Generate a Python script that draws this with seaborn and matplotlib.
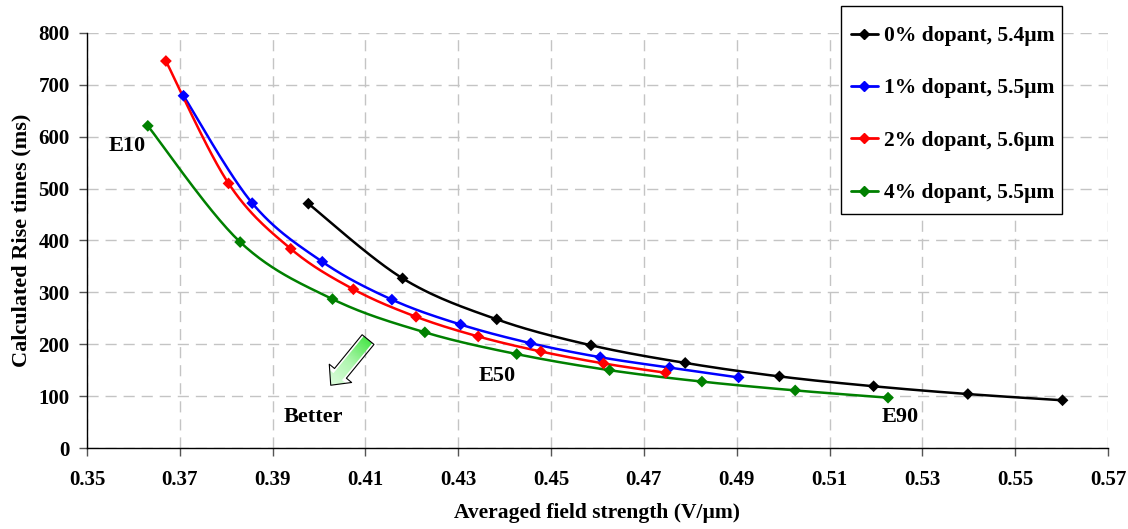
import numpy as np
import pandas as pd
import matplotlib
matplotlib.use("Agg")
import matplotlib.pyplot as plt
import seaborn as sns
from matplotlib.lines import Line2D
from matplotlib.patches import Rectangle, FancyArrowPatch
from matplotlib.colors import LinearSegmentedColormap

# ---- data ----
labels = ["0% dopant, 5.4\u00b5m", "1% dopant, 5.5\u00b5m", "2% dopant, 5.6\u00b5m", "4% dopant, 5.5\u00b5m"]
colors = ["#000000", "#0000ff", "#ff0000", "#008000"]

x0 = [0.3977, 0.4180, 0.4383, 0.4586, 0.4789, 0.4992, 0.5195, 0.5398, 0.5602]
y0 = [471, 327, 248, 198, 164, 138, 119, 104, 92]

x1 = [0.3708, 0.3856, 0.4007, 0.4157, 0.4305, 0.4456, 0.4606, 0.4755, 0.4904]
y1 = [679, 472, 359, 286, 238, 202, 175, 155, 136]

x2 = [0.3670, 0.3805, 0.3939, 0.4074, 0.4209, 0.4343, 0.4478, 0.4613, 0.4747]
y2 = [746, 510, 384, 306, 253, 215, 186, 163, 145]

x3 = [0.3631, 0.3830, 0.4029, 0.4228, 0.4426, 0.4626, 0.4825, 0.5026, 0.5226]
y3 = [621, 397, 287, 223, 181, 150, 128, 111, 97]

xs = [x0, x1, x2, x3]
ys = [y0, y1, y2, y3]

xticks = [0.35, 0.37, 0.39, 0.41, 0.43, 0.45, 0.47, 0.49, 0.51, 0.53, 0.55, 0.57]
yticks = [0, 100, 200, 300, 400, 500, 600, 700, 800]


def smooth(x, y, n=30):
    """Excel-style Bezier smoothing through the data points."""
    P = np.column_stack([x, y]).astype(float)
    Pe = np.vstack([P[0], P, P[-1]])
    t = np.linspace(0, 1, n)[:, None]
    out = []
    for i in range(len(P) - 1):
        p0, p3 = Pe[i + 1], Pe[i + 2]
        c1 = p0 + (Pe[i + 2] - Pe[i]) / 6.0
        c2 = p3 - (Pe[i + 3] - Pe[i + 1]) / 6.0
        seg = ((1 - t) ** 3) * p0 + 3 * ((1 - t) ** 2) * t * c1 + 3 * (1 - t) * t ** 2 * c2 + t ** 3 * p3
        out.append(seg if i == 0 else seg[1:])
    S = np.vstack(out)
    return S[:, 0], S[:, 1]


sns.set_theme(style="white")
plt.rcParams["font.family"] = ["Liberation Serif", "DejaVu Serif"]
plt.rcParams["font.weight"] = "bold"
plt.rcParams["text.color"] = "black"
plt.rcParams["axes.labelcolor"] = "black"
plt.rcParams["xtick.labelcolor"] = "black"
plt.rcParams["ytick.labelcolor"] = "black"

W, H = 1128, 529
fig = plt.figure(figsize=(W / 100, H / 100), dpi=100)
ax = fig.add_axes([87 / W, 1 - 448 / H, (1108 - 87) / W, (448 - 33) / H])

df = pd.concat([pd.DataFrame({"x": xs[i], "y": ys[i], "series": labels[i]}) for i in range(4)])

for i in range(4):
    sx, sy = smooth(xs[i], ys[i])
    ax.plot(sx, sy, color=colors[i], lw=1.8, zorder=3)

sns.scatterplot(data=df, x="x", y="y", hue="series", palette=dict(zip(labels, colors)),
                marker="D", s=36, edgecolor="none", legend=False, ax=ax, zorder=4)

ax.grid(True, color="#c4c4c4", linestyle=(0, (8, 5)), linewidth=1.0)
ax.set_axisbelow(True)
for s in ["top", "right"]:
    ax.spines[s].set_visible(False)
for s in ["left", "bottom"]:
    ax.spines[s].set_color("black")
    ax.spines[s].set_linewidth(1.0)
ax.tick_params(axis="both", direction="out", length=5.5, width=1, color="#555555",
               labelcolor="black", labelsize=15, bottom=True, left=True)
ax.tick_params(axis="x", pad=10)
ax.tick_params(axis="y", pad=7)

ax.set_xlabel("Averaged field strength (V/\u00b5m)", fontsize=15.5, fontweight="bold",
              labelpad=10, color="black")
ax.set_ylabel("Calculated Rise times (ms)", fontsize=16, fontweight="bold", labelpad=5, color="black")

# annotations
ax.text(0.3586, 582, "E10", fontsize=16, fontweight="bold", ha="center", va="center", color="black")
ax.text(0.4384, 139, "E50", fontsize=16, fontweight="bold", ha="center", va="center", color="black")
ax.text(0.5252, 60, "E90", fontsize=16, fontweight="bold", ha="center", va="center", color="black")
ax.text(0.3987, 60, "Better", fontsize=16, fontweight="bold", ha="center", va="center", color="black")

arrow = FancyArrowPatch(posA=(0.41056, 209), posB=(0.40252, 121),
                        arrowstyle="simple,head_width=1.6,head_length=0.85,tail_width=0.85",
                        mutation_scale=13, fc="none", ec="black", lw=0.8,
                        shrinkA=0, shrinkB=0, transform=ax.transData, zorder=6)
ax.add_patch(arrow)
# gradient fill for the arrow
nx = ny = 60
u = np.linspace(0, 1, nx)[None, :]
v = np.linspace(0, 1, ny)[:, None]
grad = (u * 41 + v * 47) / 88.0
cmap = LinearSegmentedColormap.from_list("g", ["#f0fff0", "#b0f6b0", "#22e022"])
im = ax.imshow(grad, extent=(0.4000, 0.4125, 108, 222), origin="lower", cmap=cmap,
               aspect="auto", zorder=5, interpolation="bilinear")
im.set_clip_path(arrow)

ax.set_xlim(0.35, 0.57)
ax.set_ylim(0, 800)
ax.set_xticks(xticks)
ax.set_xticklabels([f"{v:.2f}" for v in xticks])
ax.set_yticks(yticks)
ax.set_yticklabels([str(v) for v in yticks])
for lab in ax.get_xticklabels() + ax.get_yticklabels():
    lab.set_fontweight("bold")
    lab.set_color("black")

# legend with its own frame
frame = Rectangle((841 / W, 1 - 214 / H), 221 / W, 208 / H, transform=fig.transFigure,
                  fc="white", ec="black", lw=1.0, zorder=1)
fig.add_artist(frame)
handles = [Line2D([0], [0], color=c, lw=2, marker="D", markersize=5) for c in colors]
leg = fig.legend(handles, labels, loc="upper left", bbox_to_anchor=(851 / W, 1 - 26 / H),
                 borderaxespad=0, borderpad=0, frameon=False,
                 prop={"size": 15.5, "weight": "bold"},
                 handlelength=1.25, handletextpad=0.28, labelspacing=1.5)
for t in leg.get_texts():
    t.set_color("black")
leg.set_zorder(2)

fig.savefig("out.png", dpi=100)
